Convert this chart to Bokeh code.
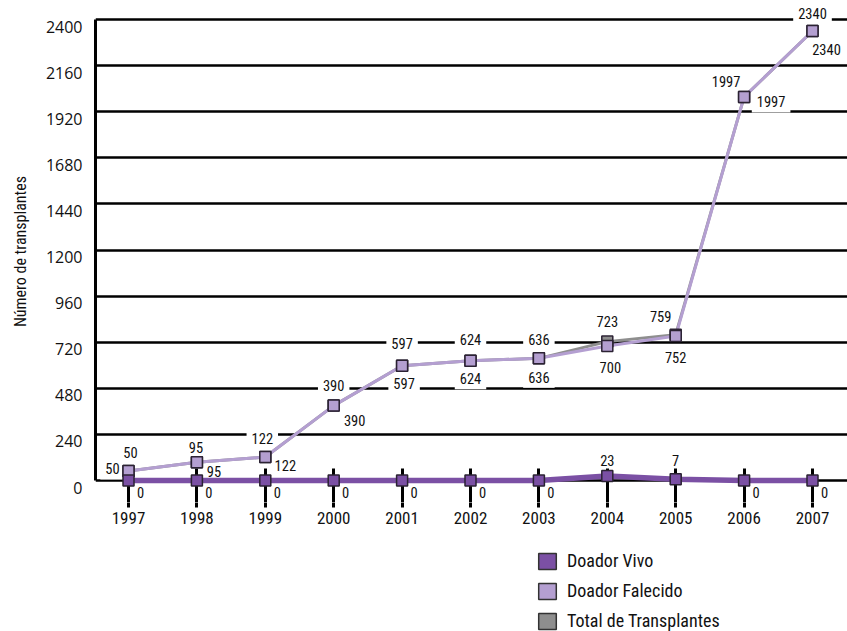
from bokeh.plotting import figure
from bokeh.layouts import column
from bokeh.models import (ColumnDataSource, Legend, LegendItem, FixedTicker, Range1d,
                          LinearAxis)
from bokeh.core.properties import value
from bokeh.embed import file_html
from bokeh.resources import INLINE

# ---- data ----
years = [1997, 1998, 1999, 2000, 2001, 2002, 2003, 2004, 2005, 2006, 2007]
doador_vivo = [0, 0, 0, 0, 0, 0, 0, 23, 7, 0, 0]
doador_falecido = [50, 95, 122, 390, 597, 624, 636, 700, 752, 1997, 2340]
total_transplantes = [50, 95, 122, 390, 597, 624, 636, 723, 759, 1997, 2340]
y_ticks = [0, 240, 480, 720, 960, 1200, 1440, 1680, 1920, 2160, 2400]
series_names = ["Doador Vivo", "Doador Falecido", "Total de Transplantes"]
y_title = "Número de transplantes"

# ---- label placement (screen px offsets, y down) ----
total_dx = [2, -1, -3, 0, 0, 0, 0, 0, -15, -18, 0]
total_dy = [-18, -15, -19, -20, -22, -21, -19, -20, -18, -15, -18]
fal_dx = [-16, 17, 20, 21, 2, 0, 0, 3, 0, 27, 14]
fal_dy = [-2, 9, 8, 15, 18, 18, 19, 21, 21, 5, 18]
vivo_dx = [12, 12, 12, 12, 12, 12, 12, 0, 0, 12, 12]
vivo_dy = [12, 12, 12, 12, 12, 12, 12, -16, -19, 12, 12]

COND = "'Liberation Sans Narrow', 'Roboto Condensed', 'Arial Narrow', sans-serif"
C_VIVO = "#7b50a4"
C_FAL = "#b49fd1"
C_TOT = "#8e8e8e"
C_EDGE = "#2b2233"
INK = "#111111"

src = ColumnDataSource(dict(
    year=years, vivo=doador_vivo, fal=doador_falecido, total=total_transplantes,
    vivo_txt=[str(v) for v in doador_vivo],
    fal_txt=[str(v) for v in doador_falecido],
    total_txt=[str(v) for v in total_transplantes],
    t_dx=total_dx, t_dy=total_dy, f_dx=fal_dx, f_dy=fal_dy, v_dx=vivo_dx, v_dy=vivo_dy,
))

PX = 461 / 2400.0          # px per unit on the y scale
XPX = 68.4                 # px per year
LEFT = 95
x_rng = Range1d(1997 - 33 / XPX, 1997 - 33 / XPX + 752 / XPX)
y0, y1 = -22 / PX, 2400 + 19 / PX

# ================= main chart =================
p = figure(width=847, height=502, output_backend="svg", toolbar_location=None,
           x_range=x_rng, y_range=Range1d(y0, y1),
           min_border_left=LEFT, min_border_right=0, min_border_top=0, min_border_bottom=0)
p.outline_line_color = None
p.extra_y_ranges = {"lbl": Range1d(y0 + 7 / PX, y1 + 7 / PX)}

p.xgrid.visible = False
p.ygrid.ticker = FixedTicker(ticks=y_ticks)
p.ygrid.grid_line_color = "black"
p.ygrid.grid_line_width = 2.5

# tick marks crossing y = 0 (year labels are drawn in the strip below)
xa = p.xaxis[0]
xa.fixed_location = 0
xa.ticker = FixedTicker(ticks=[], minor_ticks=years)
xa.major_tick_line_color = None
xa.minor_tick_in = 12
xa.minor_tick_out = 27
xa.minor_tick_line_width = 3
xa.minor_tick_line_color = "black"
xa.axis_line_color = None

# y axis rule
ya = p.yaxis[0]
ya.ticker = FixedTicker(ticks=[])
ya.bounds = (0, 2400)
ya.major_tick_line_color = None
ya.minor_tick_line_color = None
ya.axis_line_width = 3
ya.axis_line_color = "black"
ya.major_label_standoff = 0

# y tick labels (sit slightly below their grid lines) and title
yl = LinearAxis(y_range_name="lbl", ticker=FixedTicker(ticks=y_ticks),
                axis_line_color=None, major_tick_line_color=None, minor_tick_line_color=None,
                major_tick_in=0, major_tick_out=0,
                major_label_standoff=13, major_label_text_font="Open Sans",
                major_label_text_font_size="16px", major_label_text_color=INK,
                axis_label=y_title, axis_label_text_font=COND,
                axis_label_text_font_style="normal", axis_label_text_font_size="16px",
                axis_label_text_color=INK, axis_label_standoff=13)
p.add_layout(yl, "left")

# value labels with white boxes (beneath the lines, over the grid)
lab_kw = dict(source=src, text_align="center", text_baseline="middle",
              text_font=value(COND), text_font_size="14.5px", text_color=INK)
p.text(x="year", y="total", text="total_txt", x_offset="t_dx", y_offset="t_dy",
       background_fill_color="white", padding=5, **lab_kw)
p.text(x="year", y="fal", text="fal_txt", x_offset="f_dx", y_offset="f_dy",
       background_fill_color="white", padding=5, **lab_kw)
p.text(x="year", y="vivo", text="vivo_txt", x_offset="v_dx", y_offset="v_dy", **lab_kw)

# lines and markers, drawn above the axis ticks
lk = dict(source=src, level="annotation")
p.line("year", "total", line_color=C_TOT, line_width=3, **lk)
p.line("year", "fal", line_color=C_FAL, line_width=3, **lk)
p.line("year", "vivo", line_color=C_VIVO, line_width=5.5, **lk)
p.scatter("year", "total", marker="square", size=11,
          fill_color=C_TOT, line_color=C_EDGE, line_width=1.5, **lk)
p.scatter("year", "fal", marker="square", size=11,
          fill_color=C_FAL, line_color=C_EDGE, line_width=1.5, **lk)
p.scatter("year", "vivo", marker="square", size=11,
          fill_color=C_VIVO, line_color=C_EDGE, line_width=1.5, **lk)

# ================= year strip (tick ends + year labels) =================
q = figure(width=847, height=30, output_backend="svg", toolbar_location=None,
           x_range=x_rng, y_range=Range1d(0, 1), y_axis_type=None,
           min_border_left=LEFT, min_border_right=0, min_border_top=0, min_border_bottom=25)
q.outline_line_color = None
q.xgrid.visible = False
q.ygrid.visible = False
qa = q.xaxis[0]
qa.ticker = FixedTicker(ticks=years)
qa.axis_line_color = None
qa.major_tick_in = 5
qa.major_tick_out = 0
qa.major_tick_line_width = 3
qa.major_tick_line_color = "black"
qa.minor_tick_line_color = None
qa.major_label_standoff = 4
qa.major_label_text_font = COND
qa.major_label_text_font_size = "17px"
qa.major_label_text_color = INK

# ================= legend strip =================
r = figure(width=847, height=99, output_backend="svg", toolbar_location=None,
           x_range=Range1d(0, 1), y_range=Range1d(0, 1),
           x_axis_type=None, y_axis_type=None,
           min_border_left=LEFT, min_border_right=0, min_border_top=0, min_border_bottom=0)
r.outline_line_color = None
r.xgrid.visible = False
r.ygrid.visible = False
nan = float("nan")
sw = []
for c in [C_VIVO, C_FAL, C_TOT]:
    sw.append(r.quad(left=[nan], right=[nan], top=[nan], bottom=[nan], fill_color=c,
                     line_color="#333333", line_width=1.5))
legend = Legend(items=[LegendItem(label=n, renderers=[s]) for n, s in zip(series_names, sw)],
                location=(441, 0), orientation="vertical",
                glyph_width=22, glyph_height=20, spacing=9, padding=0, margin=0,
                label_standoff=9, border_line_color=None, background_fill_alpha=0,
                label_text_font=COND, label_text_font_size="18px", label_text_color=INK)
r.add_layout(legend)

page = column(p, q, r, spacing=0)
open("out.html", "w").write(file_html(page, INLINE))
